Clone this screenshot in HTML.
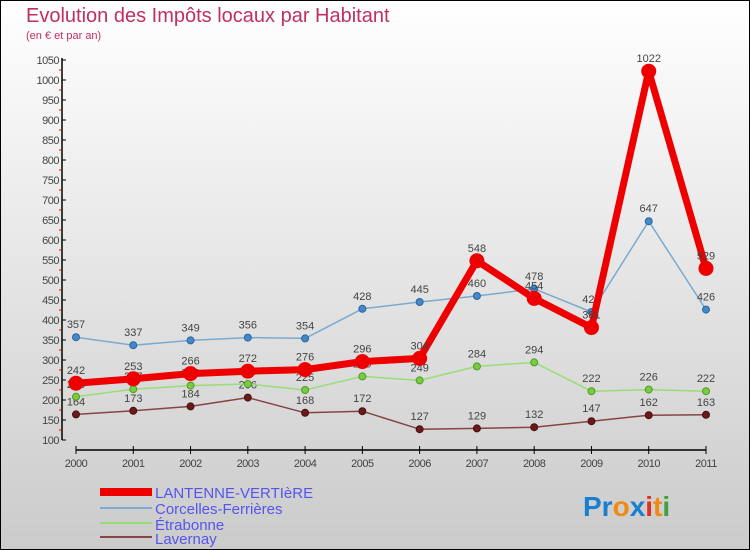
<!DOCTYPE html>
<html><head><meta charset="utf-8"><style>
body{margin:0}
#c{width:750px;height:550px;position:relative;overflow:hidden}
svg{font-family:"Liberation Sans","DejaVu Sans",sans-serif}
</style></head><body>
<div id="c">
<svg id="s" width="750" height="550" xmlns="http://www.w3.org/2000/svg">
<defs><linearGradient id="bg" x1="0" y1="0" x2="0" y2="1"><stop offset="0" stop-color="#ffffff"/><stop offset="1" stop-color="#cbcbcb"/></linearGradient></defs>
<rect x="0.5" y="0.5" width="749" height="549" fill="url(#bg)" stroke="#000"/>
<text x="26" y="22" font-size="20" fill="#c0305e">Evolution des Impôts locaux par Habitant</text>
<text x="26" y="39" font-size="11" fill="#c0305e">(en € et par an)</text>
<g id="axes"></g><g id="plot"></g>
<g font-size="15" fill="#5555ee">
<rect x="100" y="488" width="52" height="8" fill="#ee0000"/>
<text x="155" y="498">LANTENNE-VERTIèRE</text>
<line x1="100" y1="508" x2="152" y2="508" stroke="#7aaad0" stroke-width="2"/>
<text x="155" y="514">Corcelles-Ferrières</text>
<line x1="100" y1="523" x2="152" y2="523" stroke="#99dd77" stroke-width="2"/>
<text x="155" y="530">Étrabonne</text>
<line x1="100" y1="537" x2="152" y2="537" stroke="#884444" stroke-width="2"/>
<text x="155" y="544">Lavernay</text>
</g>
<g font-size="28" font-weight="bold">
<text x="583" y="516"><tspan fill="#1a7fd0">Pr</tspan><tspan fill="#f08a10">o</tspan><tspan fill="#1a7fd0">x</tspan><tspan fill="#e03020">i</tspan><tspan fill="#f08a10">t</tspan><tspan fill="#40a040">i</tspan></text>
</g>
</svg></div>
<script>
const years=["2000","2001","2002","2003","2004","2005","2006","2007","2008","2009","2010","2011"];
const lantenne=[242,253,266,272,276,296,304,548,454,381,1022,529];
const corcelles=[357,337,349,356,354,428,445,460,478,420,647,426];
const etrabonne=[208,227,236,240,225,259,249,284,294,222,226,222];
const lavernay=[164,173,184,206,168,172,127,129,132,147,162,163];
const yTicks=[100,150,200,250,300,350,400,450,500,550,600,650,700,750,800,850,900,950,1000,1050];
const NS="http://www.w3.org/2000/svg";
const X=i=>76+i*(630/11);
const Y=v=>440-(v-100)*0.4;
function mk(t,a,p){const e=document.createElementNS(NS,t);for(const k in a)e.setAttribute(k,a[k]);p.appendChild(e);return e;}
const ax=document.getElementById('axes'),pl=document.getElementById('plot');
const yl=mk('line',{x1:62,y1:58,x2:62,y2:440,stroke:'#000','stroke-width':1.5},ax);


yTicks.forEach((v,k)=>{
  mk('line',{x1:62,y1:Y(v),x2:66,y2:Y(v),stroke:'#000'},ax);
  if(k>0) mk('line',{x1:59,y1:Y(v)+10,x2:62,y2:Y(v)+10,stroke:'#e00'},ax);
  const t=mk('text',{x:59,y:Y(v)+4,'text-anchor':'end','font-size':11,fill:'#444','letter-spacing':'-0.5'},ax);t.textContent=v;
  
  
});
const xl=mk('line',{x1:76,y1:450,x2:706,y2:450,stroke:'#000','stroke-width':1.5},ax);


years.forEach((y,i)=>{
  mk('line',{x1:X(i),y1:446,x2:X(i),y2:454,stroke:'#000'},ax);
  const t=mk('text',{x:X(i),y:467,'text-anchor':'middle','font-size':11,fill:'#444','letter-spacing':'-0.5'},ax);t.textContent=y;
  
  
});
function series(data,name,color,w,r,dot,dstroke){
  const g=mk('g',{},pl);
  
  
  mk('polyline',{points:data.map((v,i)=>X(i)+','+Y(v)).join(' '),fill:'none',stroke:color,'stroke-width':w,'stroke-linejoin':'round'},g);
  data.forEach((v,i)=>{
    const c=mk('circle',{cx:X(i),cy:Y(v),r:r,fill:dot,stroke:dstroke,'stroke-width':1},g);
    
    
    const t=mk('text',{x:X(i),y:Y(v)-9,'text-anchor':'middle','font-size':11,fill:'#444'},g);t.textContent=v;
    
    
  });
}
series(lavernay,'lavernay','#884444',1.5,3.5,'#6a1a1a','#4a1010');
series(etrabonne,'etrabonne','#99dd77',1.5,3.5,'#77cc44','#559922');
series(corcelles,'corcelles','#7aaad0',1.5,3.5,'#4488cc','#2a6699');
series(lantenne,'lantenne','#ee0000',7,7,'#ee0000','#ee0000');
</script>
</body></html>
